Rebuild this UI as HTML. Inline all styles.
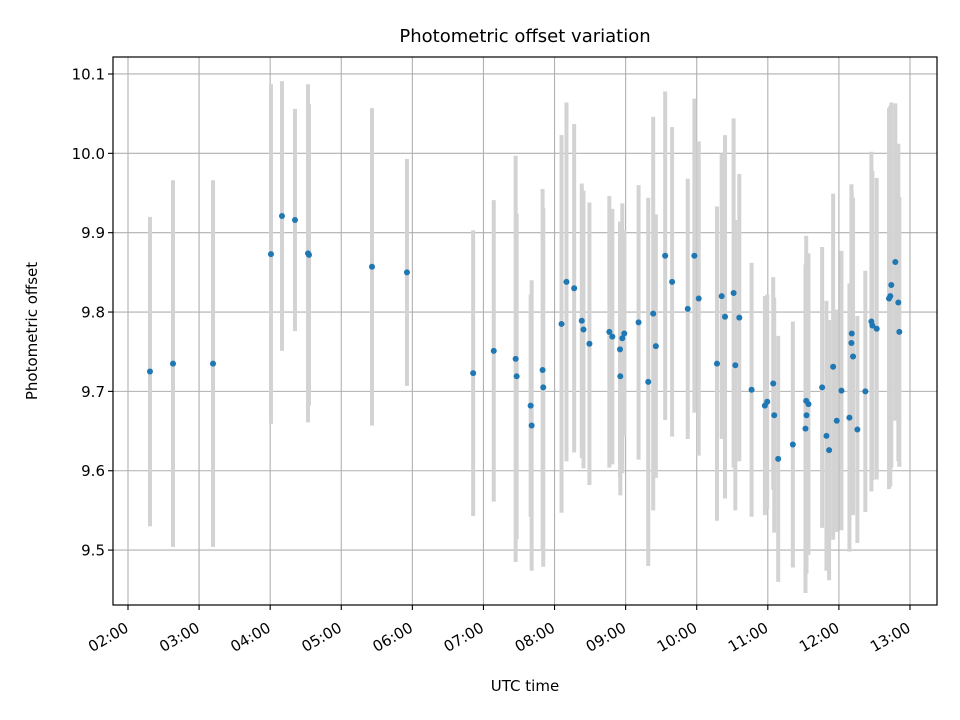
<!DOCTYPE html>
<html><head><meta charset="utf-8"><style>
body{margin:0;background:#fff}
svg{display:block;font-family:"DejaVu Sans","Liberation Sans",sans-serif}
</style></head><body>
<svg id="chart" width="960" height="720" viewBox="0 0 960 720">
<rect width="960" height="720" fill="#fff"/>
<text x="525" y="42" text-anchor="middle" font-size="18" fill="#000">Photometric offset variation</text>
<g id="grid"></g>
<g id="bars"></g>
<g id="pts"></g>
<rect x="113" y="57" width="824" height="548" fill="none" stroke="#000" stroke-width="1.2"/>
<g id="xt"></g>
<g id="yt"></g>
<text x="525" y="691" text-anchor="middle" font-size="15">UTC time</text>
<text transform="translate(37,331) rotate(-90)" text-anchor="middle" font-size="15">Photometric offset</text>
</svg>
<script>
const times=[2.309,2.633,3.196,4.011,4.166,4.349,4.532,4.546,5.432,5.924,6.855,7.145,7.453,7.467,7.664,7.678,7.832,7.841,8.098,8.168,8.276,8.383,8.407,8.491,8.771,8.813,8.921,8.925,8.953,8.981,9.182,9.318,9.388,9.425,9.556,9.654,9.874,9.967,10.028,10.285,10.351,10.398,10.519,10.543,10.599,10.772,10.959,10.992,11.076,11.090,11.146,11.352,11.530,11.540,11.544,11.572,11.764,11.825,11.862,11.919,11.970,12.036,12.148,12.176,12.181,12.199,12.260,12.372,12.457,12.471,12.532,12.705,12.723,12.737,12.794,12.836,12.850];
const offsets=[9.725,9.735,9.735,9.873,9.921,9.916,9.874,9.872,9.857,9.850,9.723,9.751,9.741,9.719,9.682,9.657,9.727,9.705,9.785,9.838,9.830,9.789,9.778,9.760,9.775,9.769,9.753,9.719,9.767,9.773,9.787,9.712,9.798,9.757,9.871,9.838,9.804,9.871,9.817,9.735,9.820,9.794,9.824,9.733,9.793,9.702,9.682,9.687,9.710,9.670,9.615,9.633,9.653,9.688,9.670,9.684,9.705,9.644,9.626,9.731,9.663,9.701,9.667,9.761,9.773,9.744,9.652,9.700,9.788,9.783,9.779,9.817,9.820,9.834,9.863,9.812,9.775];
const errors=[0.195,0.231,0.231,0.214,0.17,0.14,0.213,0.19,0.2,0.143,0.18,0.19,0.256,0.205,0.14,0.183,0.228,0.226,0.238,0.226,0.207,0.173,0.175,0.178,0.171,0.161,0.161,0.15,0.17,0.13,0.173,0.232,0.248,0.166,0.207,0.195,0.164,0.198,0.198,0.198,0.18,0.229,0.22,0.183,0.181,0.16,0.138,0.135,0.134,0.148,0.155,0.155,0.207,0.208,0.2,0.19,0.177,0.17,0.164,0.218,0.14,0.176,0.169,0.2,0.18,0.2,0.143,0.152,0.214,0.195,0.19,0.24,0.24,0.23,0.2,0.2,0.17];
const xTickHours=[2,3,4,5,6,7,8,9,10,11,12,13];
const xTickLabels=["02:00","03:00","04:00","05:00","06:00","07:00","08:00","09:00","10:00","11:00","12:00","13:00"];
const yTickValues=[9.5,9.6,9.7,9.8,9.9,10.0,10.1];
const yTickLabels=["9.5","9.6","9.7","9.8","9.9","10.0","10.1"];

const NS="http://www.w3.org/2000/svg";
const X0=113,X1=937,Y0=57,Y1=605;
const H0=1.789,H1=13.38,V0=9.4308,V1=10.1214;
function xs(h){return X0+(h-H0)/(H1-H0)*(X1-X0);}
function ys(v){return Y1-(v-V0)/(V1-V0)*(Y1-Y0);}
function mk(tag,attrs,parent){const e=document.createElementNS(NS,tag);for(const k in attrs)e.setAttribute(k,attrs[k]);parent.appendChild(e);return e;}
const grid=document.getElementById('grid'),bars=document.getElementById('bars'),pts=document.getElementById('pts'),xt=document.getElementById('xt'),yt=document.getElementById('yt');
xTickHours.forEach((h,i)=>{
  const x=xs(h);
  const g=mk('line',{x1:x,x2:x,y1:Y0,y2:Y1,stroke:'#b0b0b0','stroke-width':1.1},grid);
  
  
  const t=mk('line',{x1:x,x2:x,y1:Y1,y2:Y1+5,stroke:'#000','stroke-width':1.1},xt);
  
  
  const l=mk('text',{transform:`translate(${x-4},${Y1+16}) rotate(-30)`,'text-anchor':'end','font-size':15,dy:'0.75em'},xt);
  l.textContent=xTickLabels[i];
  
  
});
yTickValues.forEach((v,i)=>{
  const y=ys(v);
  const g=mk('line',{x1:X0,x2:X1,y1:y,y2:y,stroke:'#b0b0b0','stroke-width':1.1},grid);
  
  
  const t=mk('line',{x1:X0-5,x2:X0,y1:y,y2:y,stroke:'#000','stroke-width':1.1},yt);
  
  
  const l=mk('text',{x:X0-8,y:y+5.5,'text-anchor':'end','font-size':15},yt);
  l.textContent=yTickLabels[i];
  
  
});
times.forEach((h,i)=>{
  const x=xs(h);
  const b=mk('line',{x1:x,x2:x,y1:ys(offsets[i]+errors[i]),y2:ys(offsets[i]-errors[i]),stroke:'#d3d3d3','stroke-width':4},bars);
  
  
});
times.forEach((h,i)=>{
  const c=mk('circle',{cx:xs(h),cy:ys(offsets[i]),r:3,fill:'#1f77b4'},pts);
  
  
});
</script>
</body></html>
